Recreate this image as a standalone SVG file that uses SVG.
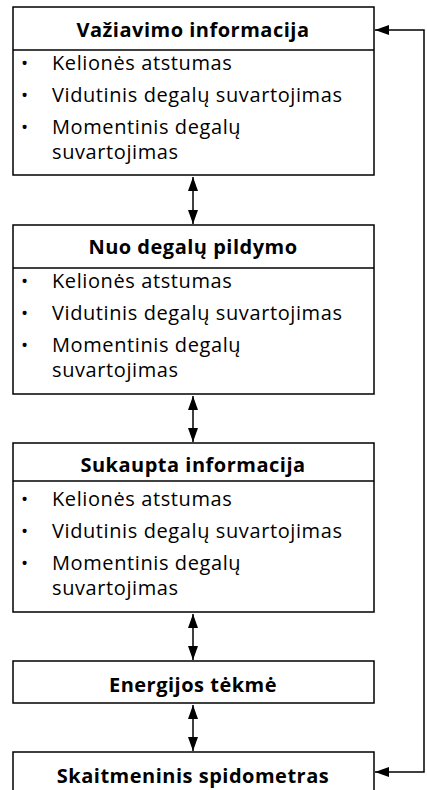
<svg xmlns="http://www.w3.org/2000/svg" width="427" height="790" viewBox="0 0 427 790">
<defs>
<marker id="ah" viewBox="0 0 14 10" refX="14" refY="5" markerWidth="14" markerHeight="10" markerUnits="userSpaceOnUse" orient="auto-start-reverse">
<path d="M0,0 L14,5 L0,10 Z" fill="#000"/>
</marker>
<style>
.box{fill:#fff;stroke:#000;stroke-width:1.5}
.sep{stroke:#000;stroke-width:1.5}
.h{font-family:"Open Sans","Liberation Sans",sans-serif;font-weight:bold;font-size:20px;letter-spacing:0.5px;text-anchor:middle;fill:#000}
.t{font-family:"Open Sans","Liberation Sans",sans-serif;font-size:20px;letter-spacing:0.6px;fill:#000}
.b{font-family:"Open Sans","Liberation Sans",sans-serif;font-size:19px;fill:#000}
.c{fill:none;stroke:#000;stroke-width:1.5}
</style>
</defs>
<rect width="427" height="790" fill="#fff"/>
<g id="connectors">
<line class="c" x1="193" y1="177" x2="193" y2="224" marker-start="url(#ah)" marker-end="url(#ah)"/>
<line class="c" x1="193" y1="396" x2="193" y2="442" marker-start="url(#ah)" marker-end="url(#ah)"/>
<line class="c" x1="193" y1="614" x2="193" y2="660" marker-start="url(#ah)" marker-end="url(#ah)"/>
<line class="c" x1="193" y1="705" x2="193" y2="751" marker-start="url(#ah)" marker-end="url(#ah)"/>
<polyline class="c" points="375,30 424,30 424,772 375,772" marker-start="url(#ah)" marker-end="url(#ah)"/>
</g>
<g id="n1">
<rect class="box" x="13" y="7" width="361" height="168"/>
<line class="sep" x1="13" y1="50" x2="374" y2="50"/>
<text class="h" x="193" y="37">Važiavimo informacija</text>
<text class="b" x="21" y="70">•</text><text class="t" x="52" y="70">Kelionės atstumas</text>
<text class="b" x="21" y="102">•</text><text class="t" x="52" y="102">Vidutinis degalų suvartojimas</text>
<text class="b" x="21" y="134">•</text><text class="t" x="52" y="134">Momentinis degalų</text>
<text class="t" x="52" y="159">suvartojimas</text>
</g>
<g id="n2">
<rect class="box" x="13" y="225" width="361" height="169"/>
<line class="sep" x1="13" y1="268" x2="374" y2="268"/>
<text class="h" x="193" y="254">Nuo degalų pildymo</text>
<text class="b" x="21" y="288">•</text><text class="t" x="52" y="288">Kelionės atstumas</text>
<text class="b" x="21" y="320">•</text><text class="t" x="52" y="320">Vidutinis degalų suvartojimas</text>
<text class="b" x="21" y="352">•</text><text class="t" x="52" y="352">Momentinis degalų</text>
<text class="t" x="52" y="377">suvartojimas</text>
</g>
<g id="n3">
<rect class="box" x="13" y="443" width="361" height="169"/>
<line class="sep" x1="13" y1="481" x2="374" y2="481"/>
<text class="h" x="193" y="472">Sukaupta informacija</text>
<text class="b" x="21" y="506">•</text><text class="t" x="52" y="506">Kelionės atstumas</text>
<text class="b" x="21" y="538">•</text><text class="t" x="52" y="538">Vidutinis degalų suvartojimas</text>
<text class="b" x="21" y="570">•</text><text class="t" x="52" y="570">Momentinis degalų</text>
<text class="t" x="52" y="595">suvartojimas</text>
</g>
<g id="n4">
<rect class="box" x="13" y="661" width="361" height="42"/>
<text class="h" x="193" y="692">Energijos tėkmė</text>
</g>
<g id="n5">
<rect class="box" x="13" y="752" width="361" height="50"/>
<text class="h" x="193" y="783">Skaitmeninis spidometras</text>
</g>
</svg>
